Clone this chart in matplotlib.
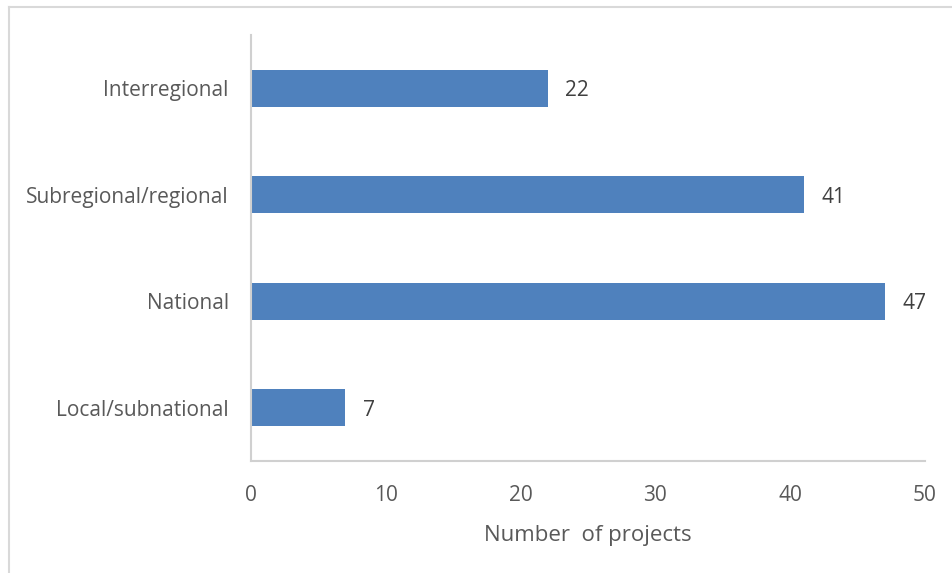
import matplotlib
matplotlib.use("Agg")
import matplotlib.pyplot as plt
from matplotlib.lines import Line2D

categories = ["Local/subnational", "National", "Subregional/regional", "Interregional"]
projects = [7, 47, 41, 22]
x_ticks = [0, 10, 20, 30, 40, 50]

plt.rcParams["font.family"] = ["Open Sans", "DejaVu Sans"]

fig = plt.figure(figsize=(9.53, 5.73), dpi=100)
W, H = 953, 573
ax = fig.add_axes([251 / W, 1 - 461 / H, (925 - 251) / W, (461 - 35) / H])

bars = ax.barh(range(len(categories)), projects, height=0.35, color="#4F81BD")
ax.set_xlim(0, 50)
ax.set_ylim(-0.5, len(categories) - 0.5)
ax.set_xticks(x_ticks)
ax.set_yticks(range(len(categories)))
ax.set_yticklabels(categories)

text_col = "#595959"
ax.tick_params(axis="both", length=0, labelsize=15, colors=text_col)
ax.tick_params(axis="x", pad=17)
ax.tick_params(axis="y", pad=16)
for s in ("top", "right"):
    ax.spines[s].set_visible(False)
for s in ("left", "bottom"):
    ax.spines[s].set_color("#D0D0D0")
    ax.spines[s].set_linewidth(1.5)

for b, v in zip(bars, projects):
    ax.text(v + 1.3, b.get_y() + b.get_height() / 2, str(v),
            va="center_baseline", ha="left", fontsize=15, color="#404040")

ax.set_xlabel("Number  of projects", fontsize=16, color=text_col, labelpad=14)

# outer chart frame
fig.add_artist(Line2D([9 / W, 9 / W], [0, 1 - 7 / H], color="#D9D9D9", lw=1.5))
fig.add_artist(Line2D([9 / W, 1], [1 - 7 / H, 1 - 7 / H], color="#D9D9D9", lw=1.5))

fig.savefig("out.png", dpi=100)
